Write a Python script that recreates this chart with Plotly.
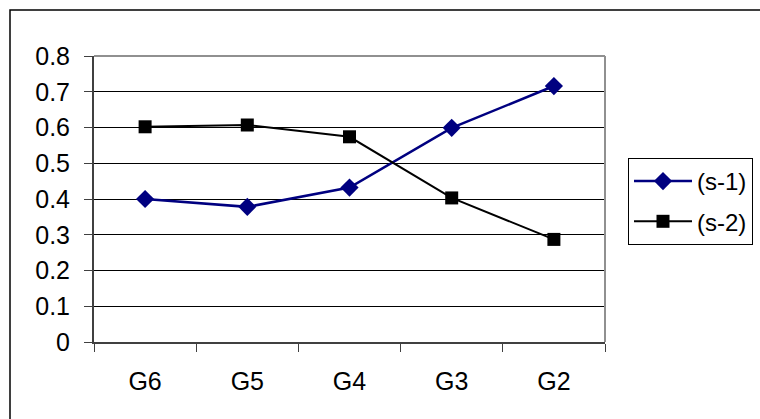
import plotly.graph_objects as go

categories = ["G6", "G5", "G4", "G3", "G2"]
s1_values = [0.40, 0.378, 0.432, 0.599, 0.716]
s2_values = [0.602, 0.607, 0.574, 0.403, 0.287]
y_ticks = [0, 0.1, 0.2, 0.3, 0.4, 0.5, 0.6, 0.7, 0.8]
y_ticklabels = ["0", "0.1", "0.2", "0.3", "0.4", "0.5", "0.6", "0.7", "0.8"]
series_names = ["(s-1)", "(s-2)"]

FONT = "Liberation Sans, Arial, sans-serif"

fig = go.Figure()
fig.add_trace(go.Scatter(
    x=categories, y=s1_values, name=series_names[0], mode="lines+markers",
    line=dict(color="#000080", width=2.5),
    marker=dict(symbol="diamond", size=14, color="#000080"),
    legendgroup="a",
))
fig.add_trace(go.Scatter(
    x=categories, y=s2_values, name=series_names[1], mode="lines+markers",
    line=dict(color="#000000", width=2),
    marker=dict(symbol="square", size=13, color="#000000"),
    legendgroup="b",
))

L, R, T, B = 94, 605, 56, 342
W, H = 760, 419
pw, ph = R - L, B - T

def px_x(p):
    return (p - L) / pw

def px_y(p):
    return (B - p) / ph

fig.update_layout(
    width=W, height=H,
    margin=dict(l=L, r=W - R, t=T, b=H - B, pad=0, autoexpand=False),
    paper_bgcolor="white", plot_bgcolor="white",
    font=dict(family=FONT, size=25, color="black"),
    showlegend=True,
    legend=dict(
        x=px_x(628), y=px_y(158), xanchor="left", yanchor="top",
        bordercolor="black", borderwidth=1, bgcolor="white",
        font=dict(family=FONT, size=24, color="black"),
        tracegroupgap=6, itemwidth=58,
    ),
    xaxis=dict(
        type="category", range=[-0.5, 4.5],
        showgrid=False, showline=True, linecolor="#404040", linewidth=2,
        ticks="outside", tickson="boundaries", ticklen=8, tickcolor="#404040",
        tickwidth=1, ticklabelstandoff=16, zeroline=False,
    ),
    yaxis=dict(
        range=[0, 0.8], tickvals=y_ticks, ticktext=y_ticklabels,
        showgrid=True, gridcolor="#000000", gridwidth=1,
        showline=True, linecolor="#404040", linewidth=2,
        ticks="outside", ticklen=8, tickcolor="#404040", tickwidth=1,
        ticklabelstandoff=9, zeroline=False,
    ),
    shapes=[
        # outer chart border
        dict(type="rect", xref="paper", yref="paper",
             x0=px_x(10), x1=px_x(775), y0=px_y(440), y1=px_y(10),
             line=dict(color="black", width=1.5), fillcolor="rgba(0,0,0,0)", layer="below"),
        # plot area border (top and right)
        dict(type="line", xref="paper", yref="paper", x0=0, x1=1, y0=1, y1=1,
             line=dict(color="#909090", width=2)),
        dict(type="line", xref="paper", yref="paper", x0=1, x1=1, y0=0, y1=1,
             line=dict(color="#909090", width=2)),
    ],
)

fig.write_html(
    "out.html",
    config={"displayModeBar": False},
    post_script="document.body.style.margin='0';document.body.style.overflow='hidden';",
)
